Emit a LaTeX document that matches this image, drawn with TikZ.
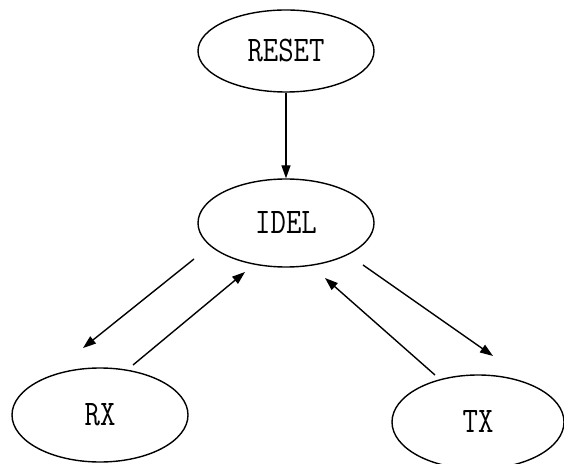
\documentclass[tikz,border=0pt]{standalone}
\usepackage{graphicx}
\usetikzlibrary{shapes.geometric,arrows.meta}
\begin{document}
\begin{tikzpicture}[x=1pt,y=1pt,
  state/.style={draw, ellipse, line width=1.4pt, inner sep=0pt,
    font=\ttfamily\fontsize{36}{36}\selectfont},
  conn/.style={line width=1.4pt, -{Triangle[length=13pt,width=9pt]}}]
\useasboundingbox[fill=white] (0,0) rectangle (564,463);
\clip (0,0) rectangle (564,463);
\node[state, minimum width=176pt, minimum height=82pt] (reset) at (286,412) {\scalebox{0.83}[1]{RESET}};
\node[state, minimum width=176pt, minimum height=88pt] (idel) at (286,240) {\scalebox{0.83}[1]{IDEL}};
\node[state, minimum width=176pt, minimum height=94pt] (rx) at (100,48) {\scalebox{0.83}[1]{RX}};
\node[state, minimum width=172pt, minimum height=94pt] (tx) at (478,41) {\scalebox{0.83}[1]{TX}};
\coordinate (a1s) at (194,204);
\coordinate (a1e) at (83,115);
\coordinate (a2s) at (133,98);
\coordinate (a2e) at (245,191);
\coordinate (a3s) at (363,198);
\coordinate (a3e) at (493,107);
\coordinate (a4s) at (435,88);
\coordinate (a4e) at (325,185);
\draw[conn] (reset) -- (idel);
\draw[conn] (a1s) -- (a1e);
\draw[conn] (a2s) -- (a2e);
\draw[conn] (a3s) -- (a3e);
\draw[conn] (a4s) -- (a4e);
\end{tikzpicture}
\end{document}
